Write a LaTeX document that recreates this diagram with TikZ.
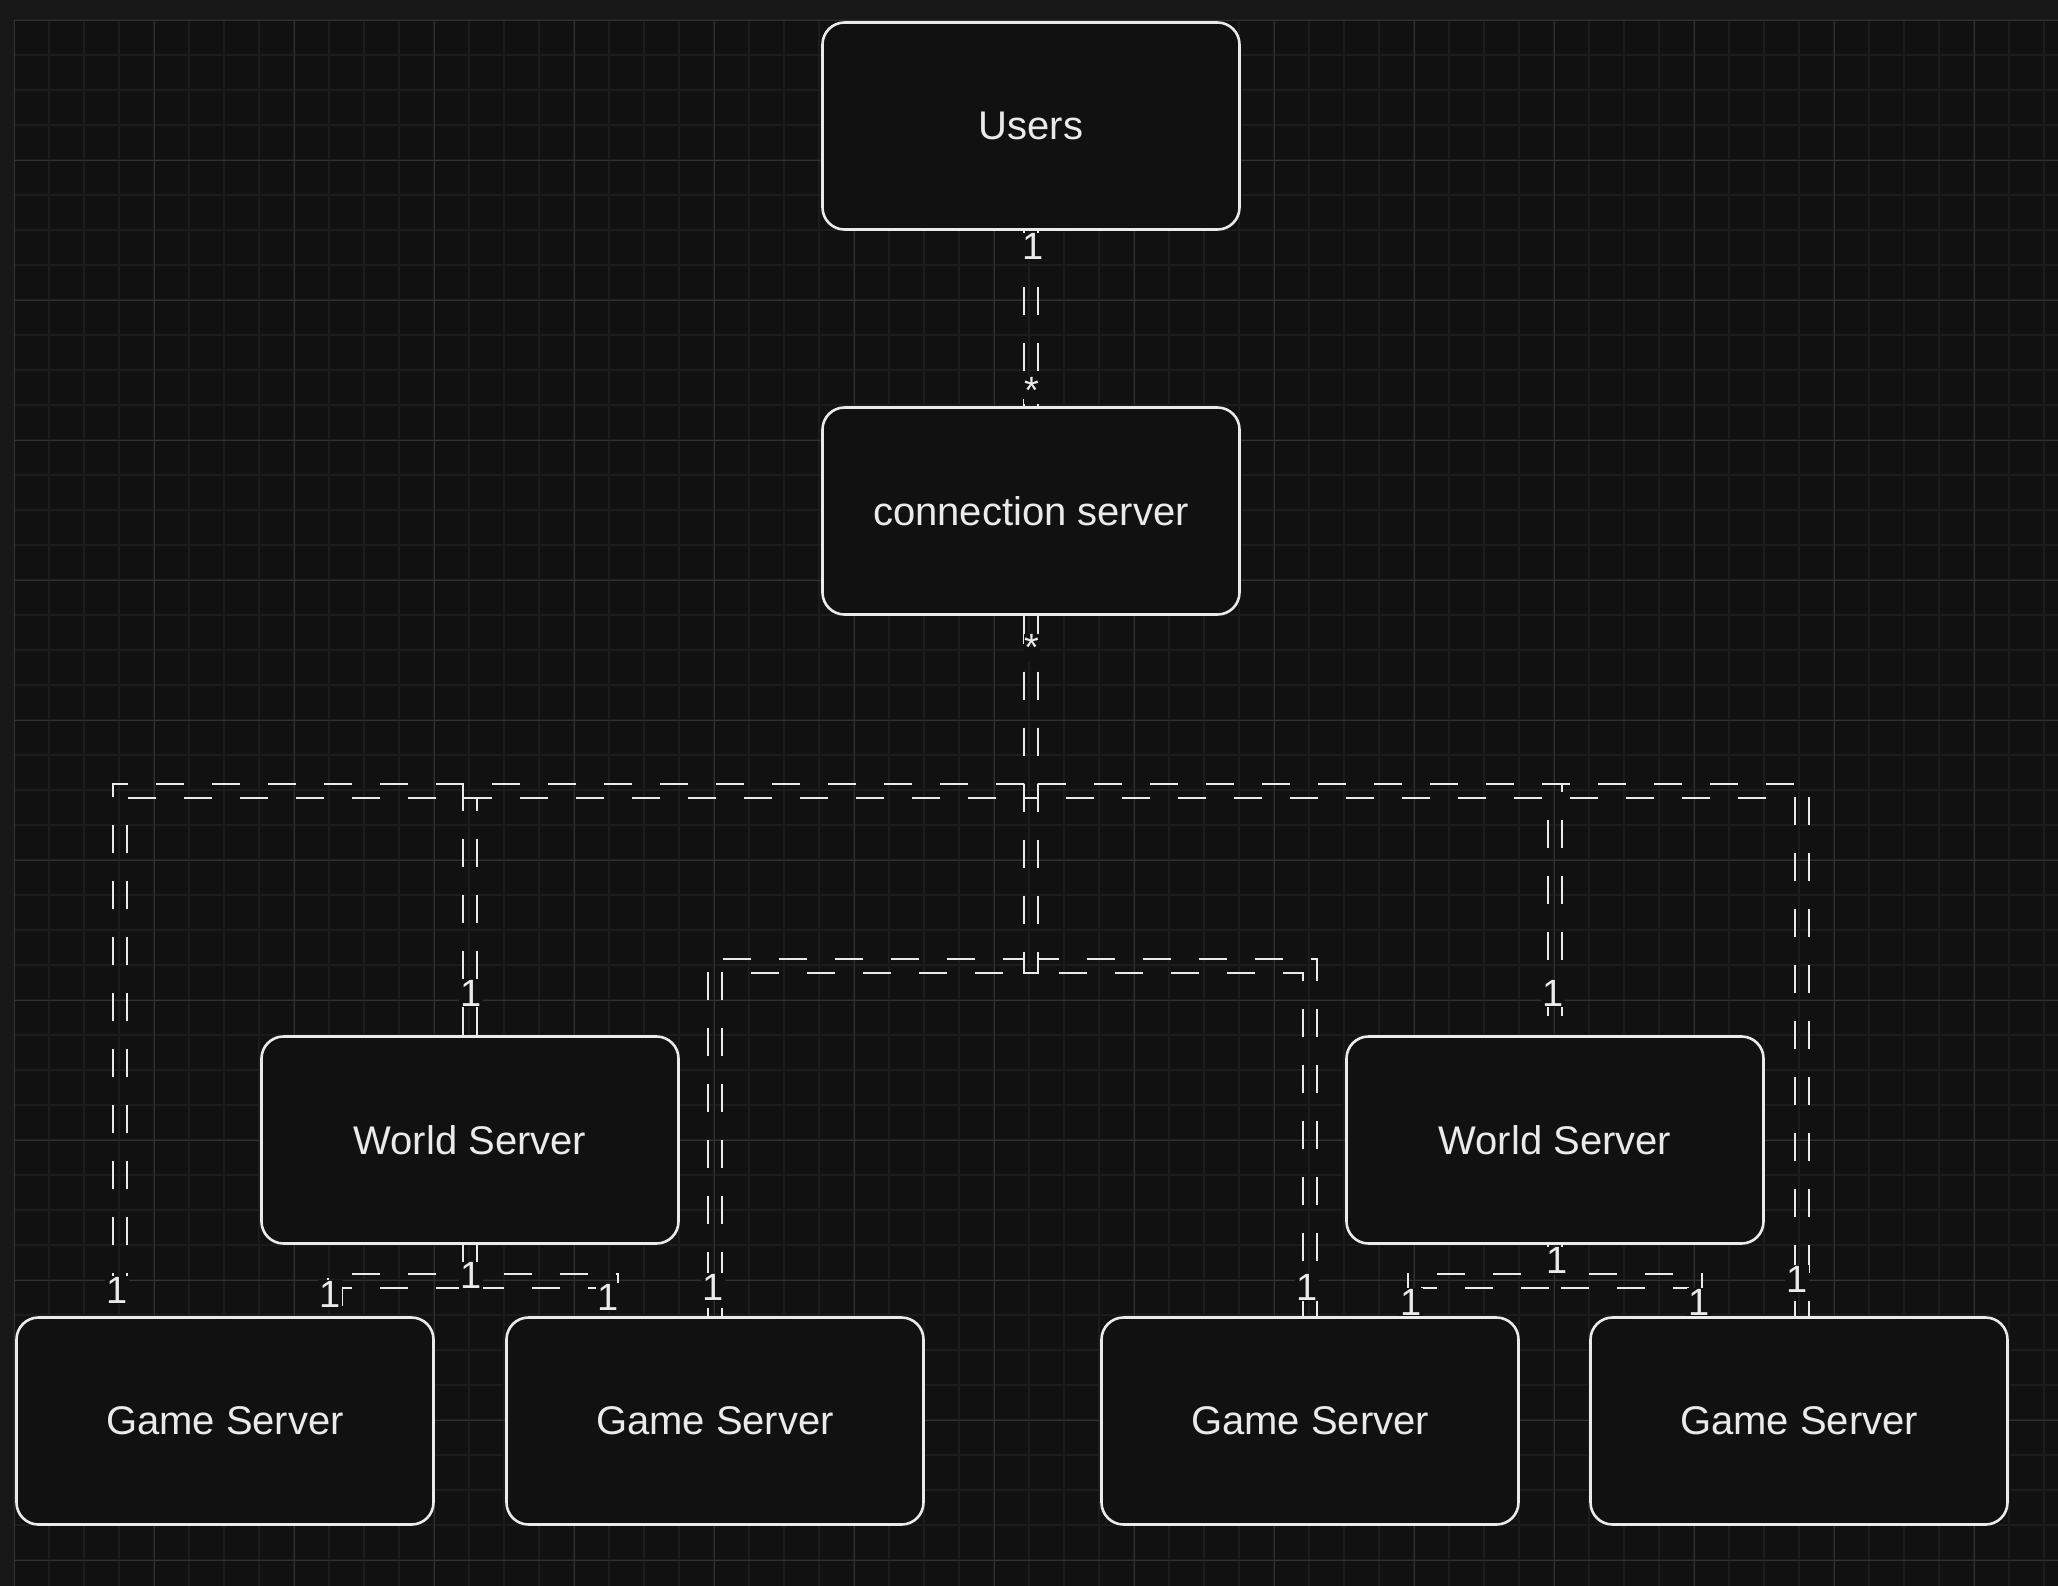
\documentclass[tikz,border=0pt]{standalone}
\usepackage{fontspec}
\setmainfont{Liberation Sans}
\usepackage{tikz}
\usetikzlibrary{calc}
\usepackage{xcolor}
\definecolor{frame}{HTML}{171717}
\definecolor{canvas}{HTML}{111111}
\definecolor{minorgrid}{HTML}{1C1C1C}
\definecolor{majorgrid}{HTML}{323232}
\definecolor{ink}{HTML}{EAEAEA}

\begin{document}
\begin{tikzpicture}[x=0.5pt,y=-0.5pt,
		box/.style={draw=ink,fill=canvas,text=ink,line width=1.3pt,rounded corners=11pt,minimum width=208.5pt,minimum height=103.5pt,font=\fontsize{20}{24}\selectfont},
		rel/.style={draw=ink,line width=1.3pt,dash pattern=on 14pt off 14pt},
		mult/.style={fill=canvas,text=ink,inner sep=0.5pt,anchor=base,font=\fontsize{19}{22}\selectfont}]
		\useasboundingbox (0,0) rectangle (2058,1586);
		\fill [frame] (0,0) rectangle (2058,1586);
		\fill [canvas] (14,20) rectangle (2058,1586);
		\foreach \i in {0,...,58} \draw [minorgrid,line width=0.75pt] (14+35*\i,20) -- (14+35*\i,1586);
		\foreach \j in {0,...,44} \draw [minorgrid,line width=0.75pt] (14,20+35*\j) -- (2058,20+35*\j);
		\foreach \i in {1,...,14} \draw [majorgrid,line width=0.5pt] (14+140*\i,20) -- (14+140*\i,1586);
		\foreach \j in {1,...,11} \draw [majorgrid,line width=0.5pt] (14,20+140*\j) -- (2058,20+140*\j);
		\draw [majorgrid] (14,1586) -- (14,20) -- (2058,20);

		\node [box] (1) at (1031,126) {Users};
		\node [box] (2) at (1031,511) {connection server};
		\node [box] (3) at (470,1140) {World Server};
		\node [box] (4) at (1555,1140) {World Server};
		\node [box] (5) at (225,1421) {Game Server};
		\node [box] (6) at (715,1421) {Game Server};
		\node [box] (7) at (1310,1421) {Game Server};
		\node [box] (8) at (1799,1421) {Game Server};

		\coordinate (hi) at (0,791);
		\coordinate (lo) at (0,966);
		\coordinate (wb) at (0,1281);

		\foreach \s/\t in {-7/7,7/-7} {
			\draw [rel] ($(1.south)+(\s,0)$) -- ($(2.north)+(\s,0)$);
			% connection server to the left
			\draw [rel] ($(2.south)+(\s,0)$) |- ($(5.north |- hi)+(-105+\s,\s)$) -- ($(5.north)+(-105+\s,0)$);
			\draw [rel] ($(2.south)+(\s,0)$) |- ($(3.north |- hi)+(\s,\s)$) -- ($(3.north)+(\s,0)$);
			\draw [rel] ($(2.south)+(\s,0)$) |- ($(6.north |- lo)+(\s,\s)$) -- ($(6.north)+(\s,0)$);
			% connection server to the right
			\draw [rel] ($(2.south)+(\s,0)$) |- ($(7.north |- lo)+(\s,\t)$) -- ($(7.north)+(\s,0)$);
			\draw [rel] ($(2.south)+(\s,0)$) |- ($(4.north |- hi)+(\s,\t)$) -- ($(4.north)+(\s,0)$);
			\draw [rel] ($(2.south)+(\s,0)$) |- ($(8.north |- hi)+(3+\s,\t)$) -- ($(8.north)+(3+\s,0)$);
			% world servers to game servers
			\draw [rel] ($(3.south)+(\s,0)$) |- ($(5.north |- wb)+(110+\s,\s)$) -- ($(5.north)+(110+\s,0)$);
			\draw [rel] ($(3.south)+(\s,0)$) |- ($(6.north |- wb)+(-104+\s,\t)$) -- ($(6.north)+(-104+\s,0)$);
			\draw [rel] ($(4.south)+(\s,0)$) |- ($(7.north |- wb)+(105+\s,\s)$) -- ($(7.north)+(105+\s,0)$);
			\draw [rel] ($(4.south)+(\s,0)$) |- ($(8.north |- wb)+(-104+\s,\t)$) -- ($(8.north)+(-104+\s,0)$);
		}

		\node [mult] (m1) at ($(1.south)+(2,29)$) {1};
		\node [mult] (m2) at ($(2.north)+(1,-3)$) {*};
		\node [mult] (m3) at ($(2.south)+(1,45)$) {*};
		\node [mult] (m4) at ($(5.north)+(-108,-13)$) {1};
		\node [mult] (m5) at ($(3.north)+(1,-29)$) {1};
		\node [mult] (m6) at ($(6.north)+(-2,-16)$) {1};
		\node [mult] (m7) at ($(7.north)+(-3,-16)$) {1};
		\node [mult] (m8) at ($(4.north)+(-2,-29)$) {1};
		\node [mult] (m9) at ($(8.north)+(-2,-24)$) {1};
		\node [mult] (m10) at ($(3.south)+(1,44)$) {1};
		\node [mult] (m11) at ($(5.north)+(105,-9)$) {1};
		\node [mult] (m12) at ($(6.north)+(-107,-6)$) {1};
		\node [mult] (m13) at ($(4.south)+(2,29)$) {1};
		\node [mult] (m14) at ($(7.north)+(101,-1)$) {1};
		\node [mult] (m15) at ($(8.north)+(-100,-1)$) {1};
\end{tikzpicture}
\end{document}
